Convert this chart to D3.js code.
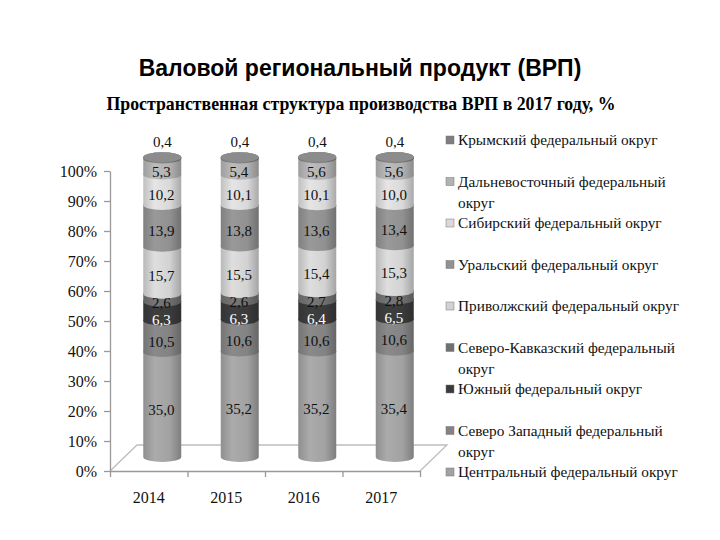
<!DOCTYPE html>
<html>
<head>
<meta charset="utf-8">
<script src="https://cdn.jsdelivr.net/npm/d3@7"></script>
<style>
  body { margin: 0; background: #fff; }
  svg { display: block; }
</style>
</head>
<body>
<svg id="chart" width="720" height="540"></svg>
<script>
// data, bottom to top of each column
var years = ["2014", "2015", "2016", "2017"];
var regions = [
  "Центральный федеральный округ",
  "Северо  Западный федеральный округ",
  "Южный федеральный округ",
  "Северо-Кавказский федеральный округ",
  "Приволжский федеральный округ",
  "Уральский федеральный округ",
  "Сибирский федеральный округ",
  "Дальневосточный федеральный округ",
  "Крымский федеральный округ"
];
var legendLines = [
  ["Центральный федеральный округ"],
  ["Северо  Западный федеральный", "округ"],
  ["Южный федеральный округ"],
  ["Северо-Кавказский федеральный", "округ"],
  ["Приволжский федеральный округ"],
  ["Уральский федеральный округ"],
  ["Сибирский федеральный округ"],
  ["Дальневосточный федеральный", "округ"],
  ["Крымский федеральный округ"]
];
var central = [35.0, 35.2, 35.2, 35.4];
var northWest = [10.5, 10.6, 10.6, 10.6];
var south = [6.3, 6.3, 6.4, 6.5];
var northCaucasus = [2.6, 2.6, 2.7, 2.8];
var volga = [15.7, 15.5, 15.4, 15.3];
var ural = [13.9, 13.8, 13.6, 13.4];
var siberia = [10.2, 10.1, 10.1, 10.0];
var farEast = [5.3, 5.4, 5.6, 5.6];
var crimea = [0.4, 0.4, 0.4, 0.4];
var series = [central, northWest, south, northCaucasus, volga, ural, siberia, farEast, crimea];
var colors = ["#a2a2a2", "#838383", "#3b3b3b", "#707070", "#d2d2d2", "#919191", "#d9d9d9", "#b2b2b2", "#7e7e7e"];
var yTicks = [0, 0.1, 0.2, 0.3, 0.4, 0.5, 0.6, 0.7, 0.8, 0.9, 1];

var svg = d3.select("#chart");
var serif = "'Liberation Serif', 'DejaVu Serif', serif";

svg.append("text")
  .attr("x", 360).attr("y", 76)
  .attr("text-anchor", "middle")
  .style("font-family", "'Liberation Sans', Arial, sans-serif")
  .style("font-weight", "bold").style("font-size", "23px")
  .text("Валовой региональный продукт (ВРП)");

svg.append("text")
  .attr("x", 361).attr("y", 110)
  .attr("text-anchor", "middle")
  .style("font-family", serif)
  .style("font-weight", "bold").style("font-size", "17.8px")
  .text("Пространственная структура производства ВРП в 2017 году, %");

// 3d floor offset
var depthX = 27, depthY = 26;

var x = d3.scaleBand().domain(years).range([110, 420]).paddingInner(0).paddingOuter(0);
var xEdge = d3.scaleLinear().domain([0, years.length]).range([110, 420]);
var y = d3.scaleLinear().domain([0, 1]).range([471, 171]);

// floor
var floor = svg.append("g").attr("stroke", "#bdbdbd").attr("fill", "none").attr("stroke-width", 1.3);
floor.append("path").attr("d",
  "M" + xEdge(0) + "," + y(0) +
  "L" + (xEdge(0) + depthX) + "," + (y(0) - depthY) +
  "L" + (xEdge(years.length) + depthX) + "," + (y(0) - depthY) +
  "L" + xEdge(years.length) + "," + y(0));

var gx = svg.append("g").attr("transform", "translate(0," + y(0) + ")")
  .call(d3.axisBottom(xEdge).tickValues(d3.range(years.length + 1)).tickFormat("").tickSize(6).tickSizeOuter(0));
gx.selectAll("path, line").attr("stroke", "#999").attr("stroke-width", 1.3);

svg.append("g").selectAll("text").data(years).join("text")
  .attr("x", d => x(d) + x.bandwidth() / 2)
  .attr("y", 503)
  .attr("text-anchor", "middle")
  .style("font-family", serif).style("font-size", "16px").attr("fill", "#111")
  .text(d => d);

var gy = svg.append("g").attr("transform", "translate(" + xEdge(0) + ",0)")
  .call(d3.axisLeft(y).tickValues(yTicks).tickFormat(d3.format(".0%")).tickSize(6).tickSizeOuter(0));
gy.selectAll("path, line").attr("stroke", "#999").attr("stroke-width", 1.3);
gy.selectAll("text").style("font-family", serif).style("font-size", "16px").attr("fill", "#111").attr("x", -13);

// gradients per colour
var defs = svg.append("defs");
colors.forEach(function(c, i) {
  var g = defs.append("linearGradient").attr("id", "grad" + i).attr("x1", 0).attr("x2", 1).attr("y1", 0).attr("y2", 0);
  var base = d3.color(c);
  g.append("stop").attr("offset", "0%").attr("stop-color", base.darker(0.35));
  g.append("stop").attr("offset", "30%").attr("stop-color", base.brighter(0.15));
  g.append("stop").attr("offset", "70%").attr("stop-color", base);
  g.append("stop").attr("offset", "100%").attr("stop-color", base.darker(0.7));
});

var rx = 19, ry = 5;
var barY = v => y(v / 100) - depthY / 2 - 1;
var fmt = v => d3.format(".1f")(v).replace(".", ",");

var stacked = years.map(function(yr, j) {
  var acc = 0;
  return series.map(function(s, i) {
    var seg = { i: i, j: j, v: s[j], lo: acc, hi: acc + s[j] };
    acc += s[j];
    return seg;
  });
});

// label positions: segment middle, pushed apart when two are too close
stacked.forEach(function(col) {
  var labs = col.slice(0, col.length - 1);
  labs.forEach(function(d) { d.ly = (barY(d.lo) + barY(d.hi)) / 2 + ry; });
  for (var k = labs.length - 2; k >= 0; k--) {
    var gap = labs[k].ly - labs[k + 1].ly;
    if (gap < 17) labs[k].ly = labs[k + 1].ly + 17;
  }
});

var bars = svg.append("g").selectAll("g").data(stacked).join("g")
  .attr("transform", (d, j) => "translate(" + (x(years[j]) + x.bandwidth() / 2 + depthX / 2) + ",0)");

bars.selectAll("path.seg").data(d => d).join("path")
  .attr("class", "seg")
  .attr("fill", d => "url(#grad" + d.i + ")")
  .attr("d", function(d) {
    var y0 = barY(d.lo), y1 = barY(d.hi);
    return "M" + (-rx) + "," + y1 + "L" + (-rx) + "," + y0 +
      "A" + rx + "," + ry + " 0 0 0 " + rx + "," + y0 +
      "L" + rx + "," + y1 +
      "A" + rx + "," + ry + " 0 0 0 " + (-rx) + "," + y1 + "Z";
  });

// top cap
bars.append("ellipse")
  .attr("cx", 0)
  .attr("cy", d => barY(d[d.length - 1].hi))
  .attr("rx", rx).attr("ry", ry)
  .attr("fill", d3.color(colors[colors.length - 1]).brighter(0.3));

// value labels inside the column
bars.selectAll("text.val").data(d => d.slice(0, d.length - 1)).join("text")
  .attr("class", "val")
  .attr("x", -1)
  .attr("y", d => d.ly)
  .attr("dy", "0.35em")
  .attr("text-anchor", "middle")
  .attr("fill", d => d.i === 2 ? "#fff" : "#111")
  .style("font-family", serif).style("font-size", "15px")
  .text(d => fmt(d.v));

// top segment label above the column
bars.append("text")
  .attr("x", 0)
  .attr("y", d => barY(d[d.length - 1].hi) - ry - 5)
  .attr("text-anchor", "middle")
  .attr("fill", "#111")
  .style("font-family", serif).style("font-size", "15px")
  .text(d => fmt(d[d.length - 1].v));

// legend, top entry first
var legendOrder = d3.range(regions.length).reverse();
var legend = svg.append("g").selectAll("g").data(legendOrder).join("g")
  .attr("transform", (d, k) => "translate(446," + (140 + k * 41.5) + ")");
legend.append("rect")
  .attr("x", 0).attr("y", -4).attr("width", 8).attr("height", 8)
  .attr("fill", d => colors[d]).attr("stroke", "#777").attr("stroke-width", 0.5);
legend.append("text")
  .attr("x", 12)
  .style("font-family", serif).style("font-size", "15.3px").attr("fill", "#111")
  .selectAll("tspan").data(d => legendLines[d]).join("tspan")
  .attr("x", 12)
  .attr("y", (d, k) => k * 21)
  .attr("dy", "0.35em")
  .text(d => d);
</script>
</body>
</html>
